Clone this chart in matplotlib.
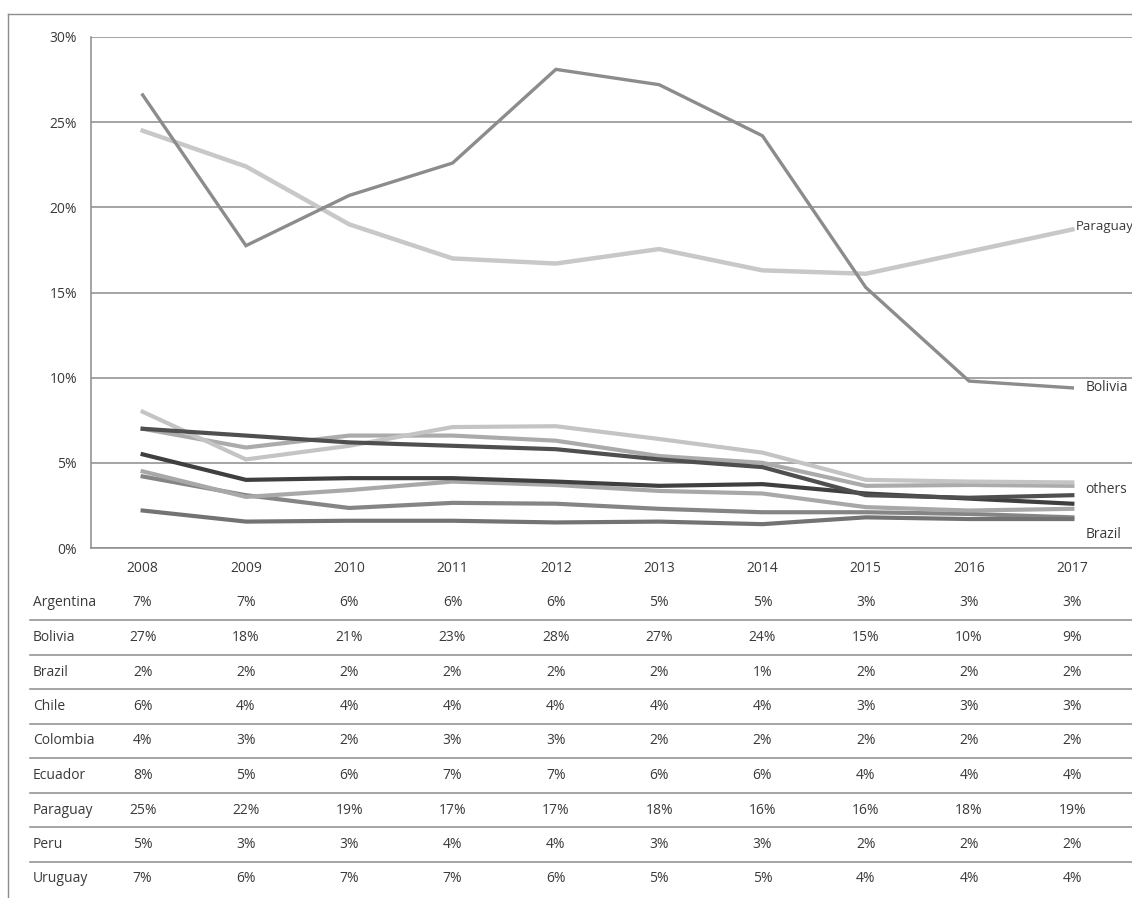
import matplotlib
matplotlib.use("Agg")
import matplotlib.pyplot as plt
from matplotlib.lines import Line2D

plt.rcParams['font.family'] = ['Liberation Sans Narrow', 'Open Sans', 'DejaVu Sans']

years = [2008, 2009, 2010, 2011, 2012, 2013, 2014, 2015, 2016, 2017]

argentina = [7.0, 6.6, 6.2, 6.0, 5.8, 5.2, 4.75, 3.1, 2.95, 3.1]
bolivia = [26.6, 17.75, 20.7, 22.6, 28.1, 27.2, 24.2, 15.3, 9.8, 9.4]
brazil = [2.2, 1.55, 1.6, 1.6, 1.5, 1.55, 1.4, 1.8, 1.7, 1.7]
chile = [5.5, 4.0, 4.1, 4.1, 3.9, 3.65, 3.75, 3.2, 2.9, 2.6]
colombia = [4.2, 3.1, 2.35, 2.65, 2.6, 2.3, 2.1, 2.1, 2.0, 1.8]
ecuador = [8.0, 5.2, 6.0, 7.1, 7.15, 6.4, 5.6, 4.0, 3.9, 3.85]
paraguay = [24.5, 22.4, 19.0, 17.0, 16.7, 17.55, 16.3, 16.1, 17.4, 18.7]
peru = [4.5, 3.0, 3.4, 3.9, 3.7, 3.35, 3.2, 2.4, 2.2, 2.3]
uruguay = [7.0, 5.9, 6.6, 6.6, 6.3, 5.4, 5.0, 3.65, 3.7, 3.65]

countries = ["Argentina", "Bolivia", "Brazil", "Chile", "Colombia",
             "Ecuador", "Paraguay", "Peru", "Uruguay"]
table_values = [
    [7, 7, 6, 6, 6, 5, 5, 3, 3, 3],
    [27, 18, 21, 23, 28, 27, 24, 15, 10, 9],
    [2, 2, 2, 2, 2, 2, 1, 2, 2, 2],
    [6, 4, 4, 4, 4, 4, 4, 3, 3, 3],
    [4, 3, 2, 3, 3, 2, 2, 2, 2, 2],
    [8, 5, 6, 7, 7, 6, 6, 4, 4, 4],
    [25, 22, 19, 17, 17, 18, 16, 16, 18, 19],
    [5, 3, 3, 4, 4, 3, 3, 2, 2, 2],
    [7, 6, 7, 7, 6, 5, 5, 4, 4, 4],
]
y_ticks = [0, 5, 10, 15, 20, 25, 30]

W, H = 1132, 898
fig = plt.figure(figsize=(W / 100, H / 100), dpi=100)

def fx(px):
    return px / W

def fy(py):
    return 1 - py / H

ax_left, ax_right, ax_top, ax_bottom = 91, 1132, 37, 548
ax = fig.add_axes([fx(ax_left), fy(ax_bottom), fx(ax_right - ax_left), (ax_bottom - ax_top) / H])

x = list(range(len(years)))
cat_w = 103.3
ax.set_xlim(-0.5, (ax_right - ax_left) / cat_w - 0.5)
ax.set_ylim(0, 30)

series = [
    (colombia, "#858585", 3.0),
    (brazil, "#737373", 3.0),
    (peru, "#a8a8a8", 3.0),
    (uruguay, "#ababab", 3.0),
    (ecuador, "#c4c4c4", 3.0),
    (chile, "#3f3f3f", 3.0),
    (argentina, "#4f4f4f", 3.0),
    (paraguay, "#c8c8c8", 3.2),
    (bolivia, "#8c8c8c", 2.4),
]
for vals, col, lw in series:
    ax.plot(x, vals, color=col, lw=lw, solid_joinstyle='miter', zorder=3)

txt_col = "#3a3a3a"
ax.set_yticks(y_ticks)
ax.set_yticklabels([f"{v}%" for v in y_ticks], fontsize=10, color=txt_col)
ax.yaxis.grid(True, color="#8c8c8c", lw=1.1)
ax.set_axisbelow(True)
ax.set_xticks(x)
ax.set_xticklabels([str(y) for y in years], fontsize=10, color=txt_col)
ax.tick_params(length=0, pad=9)
ax.tick_params(axis='y', pad=10)
for s in ["top", "right"]:
    ax.spines[s].set_visible(False)
ax.spines["left"].set_color("#8c8c8c")
ax.spines["bottom"].set_color("#8c8c8c")
ax.spines["left"].set_linewidth(1.1)
ax.spines["bottom"].set_linewidth(1.1)

lab_kw = dict(textcoords="offset pixels", fontsize=10, color=txt_col, va="center", ha="left")
ax.annotate("Paraguay", (x[-1], paraguay[-1]), xytext=(3, 3), fontsize=9.5,
            textcoords="offset pixels", color=txt_col, va="center", ha="left")
ax.annotate("Bolivia", (x[-1], bolivia[-1]), xytext=(13, 0), **lab_kw)
ax.annotate("others", (x[-1], chile[-1]), xytext=(13, 14), **lab_kw)
ax.annotate("Brazil", (x[-1], brazil[-1]), xytext=(13, -15), **lab_kw)

# outer frame
fig.add_artist(Line2D([fx(8), fx(8)], [fy(14), fy(898)], color="#8c8c8c", lw=1.0))
fig.add_artist(Line2D([fx(8), 1.0], [fy(14), fy(14)], color="#8c8c8c", lw=1.0))

# data table
row0, row_h = 603, 34.5
for i, (name, vals) in enumerate(zip(countries, table_values)):
    yc = row0 + i * row_h
    fig.text(fx(33), fy(yc), name, fontsize=10, color=txt_col, va="center", ha="left")
    for j, v in enumerate(vals):
        xc = ax_left + (j + 0.5) * cat_w
        fig.text(fx(xc), fy(yc), f"{v}%", fontsize=10, color=txt_col, va="center", ha="center")
    if i < len(countries) - 1:
        yl = yc + row_h / 2
        fig.add_artist(Line2D([fx(30), 1.0], [fy(yl), fy(yl)], color="#8c8c8c", lw=1.1))

fig.savefig("out.png", dpi=100, facecolor="white")
